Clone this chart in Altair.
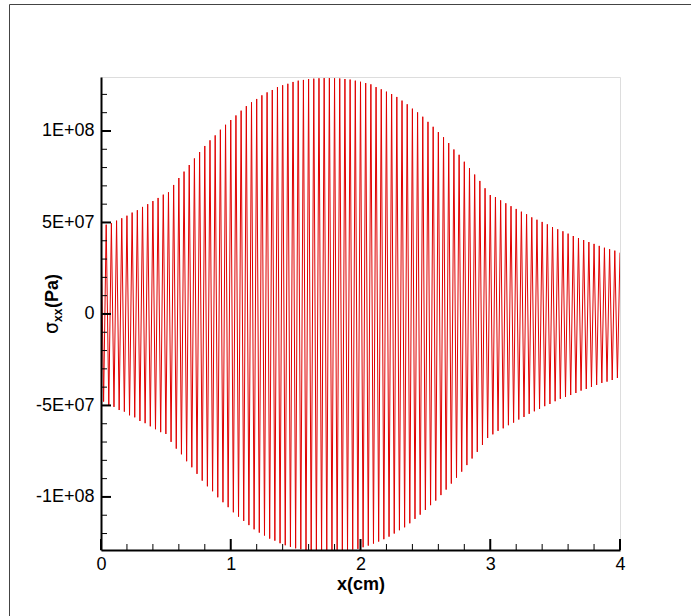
import altair as alt
import pandas as pd

# sigma_xx along the bar, sampled at mesh nodes every 0.02 cm (x = 0 ... 4 cm).
# The field flips sign from node to node; crests sit on even nodes, troughs on odd ones.
NODE_SPACING_CM = 0.02
UNIT = 1e7  # values below are in units of 1E+07 Pa

# crests (nodes 0, 2, 4, ..., 200)
crests = [
    4.85, 4.88, 4.96, 5.10, 5.23, 5.37, 5.54, 5.67, 5.85, 6.00,
    6.17, 6.34, 6.52, 6.65, 7.05, 7.43, 7.78, 8.14, 8.50, 8.85,
    9.18, 9.49, 9.76, 10.07, 10.34, 10.60, 10.85, 11.11, 11.36, 11.57,
    11.75, 11.95, 12.11, 12.24, 12.40, 12.50, 12.58, 12.68, 12.75, 12.79,
    12.84, 12.86, 12.88, 12.89, 12.89, 12.88, 12.87, 12.84, 12.81, 12.75,
    12.69, 12.62, 12.55, 12.40, 12.28, 12.15, 12.02, 11.86, 11.66, 11.46,
    11.22, 11.02, 10.78, 10.50, 10.23, 9.94, 9.66, 9.34, 8.99, 8.70,
    8.32, 7.97, 7.62, 7.27, 6.87, 6.50, 6.39, 6.21, 6.05, 5.89,
    5.74, 5.59, 5.45, 5.28, 5.15, 5.03, 4.90, 4.75, 4.63, 4.52,
    4.39, 4.26, 4.15, 4.04, 3.93, 3.83, 3.72, 3.62, 3.54, 3.46,
    3.35,
]

# troughs (nodes 1, 3, 5, ..., 199)
troughs = [
    -4.79, -5.01, -5.08, -5.25, -5.34, -5.54, -5.65, -5.85, -5.97, -6.14,
    -6.30, -6.46, -6.56, -6.99, -7.36, -7.67, -8.05, -8.38, -8.74, -9.11,
    -9.42, -9.69, -10.02, -10.29, -10.56, -10.84, -11.08, -11.31, -11.54, -11.77,
    -11.95, -12.11, -12.28, -12.39, -12.53, -12.64, -12.73, -12.81, -12.86, -12.92,
    -12.96, -13.00, -13.02, -13.03, -13.02, -13.00, -12.96, -12.92, -12.88, -12.84,
    -12.75, -12.66, -12.55, -12.44, -12.31, -12.17, -12.00, -11.82, -11.66, -11.44,
    -11.20, -10.97, -10.71, -10.45, -10.20, -9.90, -9.60, -9.27, -8.95, -8.62,
    -8.26, -7.90, -7.54, -7.16, -6.78, -6.58, -6.39, -6.25, -6.08, -5.94,
    -5.77, -5.63, -5.46, -5.32, -5.19, -5.04, -4.92, -4.77, -4.64, -4.54,
    -4.43, -4.32, -4.19, -4.10, -3.99, -3.88, -3.77, -3.70, -3.61, -3.50,
]

# axes
x_domain = [0, 4]
y_domain = [-1.29e8, 1.295e8]
x_major = [0, 1, 2, 3, 4]
x_minor = [0.2, 0.4, 0.6, 0.8, 1.2, 1.4, 1.6, 1.8, 2.2, 2.4, 2.6, 2.8,
           3.2, 3.4, 3.6, 3.8]
y_major = [-1e8, -5e7, 0, 5e7, 1e8]
y_major_labels = ["-1E+08", "-5E+07", "0", "5E+07", "1E+08"]
y_minor = [-1.2e8, -1.1e8, -9e7, -8e7, -7e7, -6e7, -4e7, -3e7, -2e7, -1e7,
           1e7, 2e7, 3e7, 4e7, 6e7, 7e7, 8e7, 9e7, 1.1e8, 1.2e8]

# interleave crests and troughs into the node sequence
sigma = []
for k, c in enumerate(crests):
    sigma.append(c * UNIT)
    if k < len(troughs):
        sigma.append(troughs[k] * UNIT)
nodes = pd.DataFrame({
    "x": [round(i * NODE_SPACING_CM, 4) for i in range(len(sigma))],
    "sigma": sigma,
})

W, H = 519, 473
FONT = "Liberation Sans"

y_label_expr = " : ".join(
    f"datum.value == {v:.0f} ? '{t}'" for v, t in zip(y_major, y_major_labels)
) + " : ''"

x_scale = alt.Scale(domain=x_domain, nice=False, zero=False)
y_scale = alt.Scale(domain=y_domain, nice=False, zero=False)

x_axis = alt.Axis(
    values=x_major, format="d", ticks=False, grid=False, labelFlush=False,
    domainColor="black", domainWidth=2,
    labelFont=FONT, labelFontSize=18, labelColor="black", labelPadding=5,
    title="x(cm)", titleFont=FONT, titleFontSize=18, titleFontWeight="bold",
    titleColor="black", titlePadding=2, zindex=1,
)
y_axis = alt.Axis(
    values=y_major, labelExpr=y_label_expr, ticks=False, grid=False,
    labelFlush=False, domainColor="black", domainWidth=2,
    labelFont=FONT, labelFontSize=18, labelColor="black", labelPadding=7,
    title=None, zindex=1,
)

line = alt.Chart(nodes).mark_line(
    color="#e00000", strokeWidth=1, clip=True
).encode(
    x=alt.X("x:Q", scale=x_scale, axis=x_axis),
    y=alt.Y("sigma:Q", scale=y_scale, axis=y_axis),
)

# inward-pointing tick marks
x_major_ticks = alt.Chart(pd.DataFrame({"x": x_major})).mark_rule(
    color="black", strokeWidth=2
).encode(x=alt.X("x:Q", scale=x_scale, axis=x_axis),
         y=alt.value(H), y2=alt.value(H - 11))
x_minor_ticks = alt.Chart(pd.DataFrame({"x": x_minor})).mark_rule(
    color="black", strokeWidth=1
).encode(x=alt.X("x:Q", scale=x_scale, axis=x_axis),
         y=alt.value(H), y2=alt.value(H - 6))
y_major_ticks = alt.Chart(pd.DataFrame({"sigma": y_major})).mark_rule(
    color="black", strokeWidth=2
).encode(y=alt.Y("sigma:Q", scale=y_scale, axis=y_axis),
         x=alt.value(0), x2=alt.value(10))
y_minor_ticks = alt.Chart(pd.DataFrame({"sigma": y_minor})).mark_rule(
    color="black", strokeWidth=1
).encode(y=alt.Y("sigma:Q", scale=y_scale, axis=y_axis),
         x=alt.value(0), x2=alt.value(6))

# y-axis title: sigma with an "xx" subscript, then the unit
one = pd.DataFrame({"t": [""]})
title_sigma = alt.Chart(one).mark_text(
    text="σ", angle=270, align="left", baseline="alphabetic",
    font="DejaVu Sans", fontSize=19, color="black",
).encode(x=alt.value(-43), y=alt.value(257))
title_sub = alt.Chart(one).mark_text(
    text="xx", angle=270, align="left", baseline="alphabetic",
    font=FONT, fontSize=12, fontWeight="bold", color="black",
).encode(x=alt.value(-39), y=alt.value(245))
title_unit = alt.Chart(one).mark_text(
    text="(Pa)", angle=270, align="left", baseline="alphabetic",
    font=FONT, fontSize=18, fontWeight="bold", color="black",
).encode(x=alt.value(-43), y=alt.value(231))

# outer frame (left and top edges)
frame_left = alt.Chart(one).mark_rule(color="#444444", strokeWidth=1).encode(
    x=alt.value(-91.5), y=alt.value(-72.5), y2=alt.value(H + 100))
frame_top = alt.Chart(one).mark_rule(color="#444444", strokeWidth=1).encode(
    x=alt.value(-91.5), x2=alt.value(W + 100), y=alt.value(-72.5))

chart = alt.layer(
    line, x_minor_ticks, x_major_ticks, y_minor_ticks, y_major_ticks,
    title_sigma, title_sub, title_unit, frame_left, frame_top,
).properties(
    width=W, height=H,
    autosize=alt.AutoSizeParams(type="none"),
    padding={"left": 101, "top": 77, "right": 71, "bottom": 66},
).configure_view(strokeWidth=0).configure(background="white")

chart.save("out.html", embed_options={"renderer": "svg", "actions": False})
